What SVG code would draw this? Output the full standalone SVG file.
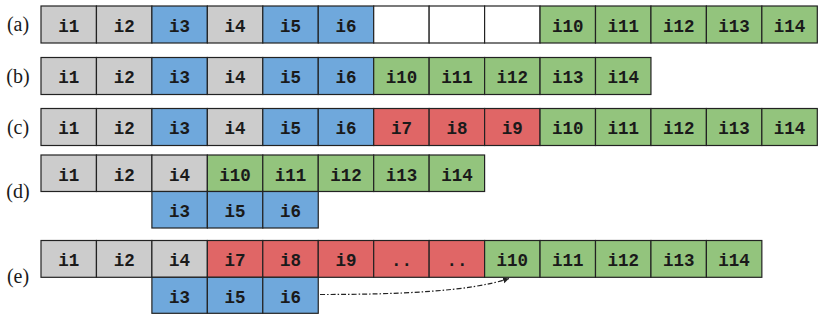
<svg xmlns="http://www.w3.org/2000/svg" width="822" height="316" viewBox="0 0 822 316">
<style>
rect{stroke:#222;stroke-width:1.2}
.g{fill:#cccccc}.b{fill:#6fa8dc}.gr{fill:#93c47d}.r{fill:#e06666}.w{fill:#ffffff}
.t{font-family:"Liberation Mono","DejaVu Sans Mono",monospace;font-weight:bold;font-size:17.5px;fill:#1a1a1a;text-anchor:middle}
.l{font-family:"Liberation Serif","DejaVu Serif",serif;font-size:20px;fill:#1a1a1a;text-anchor:middle}
</style>
<defs>
<marker id="ah" markerWidth="8" markerHeight="8" refX="6" refY="3" orient="auto" markerUnits="userSpaceOnUse">
<path d="M0,0 L6,3 L0,6 Z" fill="#222"/>
</marker>
</defs>
<g id="labels">
<text class="l" x="18" y="31">(a)</text>
<text class="l" x="18" y="82.5">(b)</text>
<text class="l" x="18" y="133.5">(c)</text>
<text class="l" x="18" y="197.5">(d)</text>
<text class="l" x="18" y="283">(e)</text>
</g>
<!-- row a -->
<g id="a1"><rect class="g" x="41" y="6" width="55.45" height="37"/><text class="t" x="68.7" y="31.8">i1</text></g>
<g id="a2"><rect class="g" x="96.45" y="6" width="55.45" height="37"/><text class="t" x="124.2" y="31.8">i2</text></g>
<g id="a3"><rect class="b" x="151.9" y="6" width="55.45" height="37"/><text class="t" x="179.6" y="31.8">i3</text></g>
<g id="a4"><rect class="g" x="207.35" y="6" width="55.45" height="37"/><text class="t" x="235.1" y="31.8">i4</text></g>
<g id="a5"><rect class="b" x="262.8" y="6" width="55.45" height="37"/><text class="t" x="290.5" y="31.8">i5</text></g>
<g id="a6"><rect class="b" x="318.25" y="6" width="55.45" height="37"/><text class="t" x="346" y="31.8">i6</text></g>
<g id="a7"><rect class="w" x="373.7" y="6" width="55.45" height="37"/></g>
<g id="a8"><rect class="w" x="429.15" y="6" width="55.45" height="37"/></g>
<g id="a9"><rect class="w" x="484.6" y="6" width="55.45" height="37"/></g>
<g id="a10"><rect class="gr" x="540.05" y="6" width="55.45" height="37"/><text class="t" x="567.8" y="31.8">i10</text></g>
<g id="a11"><rect class="gr" x="595.5" y="6" width="55.45" height="37"/><text class="t" x="623.2" y="31.8">i11</text></g>
<g id="a12"><rect class="gr" x="650.95" y="6" width="55.45" height="37"/><text class="t" x="678.7" y="31.8">i12</text></g>
<g id="a13"><rect class="gr" x="706.4" y="6" width="55.45" height="37"/><text class="t" x="734.1" y="31.8">i13</text></g>
<g id="a14"><rect class="gr" x="761.85" y="6" width="55.45" height="37"/><text class="t" x="789.6" y="31.8">i14</text></g>
<!-- row b -->
<g id="b1"><rect class="g" x="41" y="57.5" width="55.45" height="37"/><text class="t" x="68.7" y="83.3">i1</text></g>
<g id="b2"><rect class="g" x="96.45" y="57.5" width="55.45" height="37"/><text class="t" x="124.2" y="83.3">i2</text></g>
<g id="b3"><rect class="b" x="151.9" y="57.5" width="55.45" height="37"/><text class="t" x="179.6" y="83.3">i3</text></g>
<g id="b4"><rect class="g" x="207.35" y="57.5" width="55.45" height="37"/><text class="t" x="235.1" y="83.3">i4</text></g>
<g id="b5"><rect class="b" x="262.8" y="57.5" width="55.45" height="37"/><text class="t" x="290.5" y="83.3">i5</text></g>
<g id="b6"><rect class="b" x="318.25" y="57.5" width="55.45" height="37"/><text class="t" x="346" y="83.3">i6</text></g>
<g id="b10"><rect class="gr" x="373.7" y="57.5" width="55.45" height="37"/><text class="t" x="401.4" y="83.3">i10</text></g>
<g id="b11"><rect class="gr" x="429.15" y="57.5" width="55.45" height="37"/><text class="t" x="456.9" y="83.3">i11</text></g>
<g id="b12"><rect class="gr" x="484.6" y="57.5" width="55.45" height="37"/><text class="t" x="512.3" y="83.3">i12</text></g>
<g id="b13"><rect class="gr" x="540.05" y="57.5" width="55.45" height="37"/><text class="t" x="567.8" y="83.3">i13</text></g>
<g id="b14"><rect class="gr" x="595.5" y="57.5" width="55.45" height="37"/><text class="t" x="623.2" y="83.3">i14</text></g>
<!-- row c -->
<g id="c1"><rect class="g" x="41" y="108.5" width="55.45" height="37"/><text class="t" x="68.7" y="134.3">i1</text></g>
<g id="c2"><rect class="g" x="96.45" y="108.5" width="55.45" height="37"/><text class="t" x="124.2" y="134.3">i2</text></g>
<g id="c3"><rect class="b" x="151.9" y="108.5" width="55.45" height="37"/><text class="t" x="179.6" y="134.3">i3</text></g>
<g id="c4"><rect class="g" x="207.35" y="108.5" width="55.45" height="37"/><text class="t" x="235.1" y="134.3">i4</text></g>
<g id="c5"><rect class="b" x="262.8" y="108.5" width="55.45" height="37"/><text class="t" x="290.5" y="134.3">i5</text></g>
<g id="c6"><rect class="b" x="318.25" y="108.5" width="55.45" height="37"/><text class="t" x="346" y="134.3">i6</text></g>
<g id="c7"><rect class="r" x="373.7" y="108.5" width="55.45" height="37"/><text class="t" x="401.4" y="134.3">i7</text></g>
<g id="c8"><rect class="r" x="429.15" y="108.5" width="55.45" height="37"/><text class="t" x="456.9" y="134.3">i8</text></g>
<g id="c9"><rect class="r" x="484.6" y="108.5" width="55.45" height="37"/><text class="t" x="512.3" y="134.3">i9</text></g>
<g id="c10"><rect class="gr" x="540.05" y="108.5" width="55.45" height="37"/><text class="t" x="567.8" y="134.3">i10</text></g>
<g id="c11"><rect class="gr" x="595.5" y="108.5" width="55.45" height="37"/><text class="t" x="623.2" y="134.3">i11</text></g>
<g id="c12"><rect class="gr" x="650.95" y="108.5" width="55.45" height="37"/><text class="t" x="678.7" y="134.3">i12</text></g>
<g id="c13"><rect class="gr" x="706.4" y="108.5" width="55.45" height="37"/><text class="t" x="734.1" y="134.3">i13</text></g>
<g id="c14"><rect class="gr" x="761.85" y="108.5" width="55.45" height="37"/><text class="t" x="789.6" y="134.3">i14</text></g>
<!-- row d -->
<g id="d1"><rect class="g" x="41" y="155" width="55.45" height="36.5"/><text class="t" x="68.7" y="180.6">i1</text></g>
<g id="d2"><rect class="g" x="96.45" y="155" width="55.45" height="36.5"/><text class="t" x="124.2" y="180.6">i2</text></g>
<g id="d4"><rect class="g" x="151.9" y="155" width="55.45" height="36.5"/><text class="t" x="179.6" y="180.6">i4</text></g>
<g id="d10"><rect class="gr" x="207.35" y="155" width="55.45" height="36.5"/><text class="t" x="235.1" y="180.6">i10</text></g>
<g id="d11"><rect class="gr" x="262.8" y="155" width="55.45" height="36.5"/><text class="t" x="290.5" y="180.6">i11</text></g>
<g id="d12"><rect class="gr" x="318.25" y="155" width="55.45" height="36.5"/><text class="t" x="346" y="180.6">i12</text></g>
<g id="d13"><rect class="gr" x="373.7" y="155" width="55.45" height="36.5"/><text class="t" x="401.4" y="180.6">i13</text></g>
<g id="d14"><rect class="gr" x="429.15" y="155" width="55.45" height="36.5"/><text class="t" x="456.9" y="180.6">i14</text></g>
<g id="d3"><rect class="b" x="151.9" y="191.5" width="55.45" height="36.5"/><text class="t" x="179.6" y="217">i3</text></g>
<g id="d5"><rect class="b" x="207.35" y="191.5" width="55.45" height="36.5"/><text class="t" x="235.1" y="217">i5</text></g>
<g id="d6"><rect class="b" x="262.8" y="191.5" width="55.45" height="36.5"/><text class="t" x="290.5" y="217">i6</text></g>
<!-- row e -->
<g id="e1"><rect class="g" x="41" y="240.5" width="55.45" height="36.8"/><text class="t" x="68.7" y="266.3">i1</text></g>
<g id="e2"><rect class="g" x="96.45" y="240.5" width="55.45" height="36.8"/><text class="t" x="124.2" y="266.3">i2</text></g>
<g id="e4"><rect class="g" x="151.9" y="240.5" width="55.45" height="36.8"/><text class="t" x="179.6" y="266.3">i4</text></g>
<g id="e7"><rect class="r" x="207.35" y="240.5" width="55.45" height="36.8"/><text class="t" x="235.1" y="266.3">i7</text></g>
<g id="e8"><rect class="r" x="262.8" y="240.5" width="55.45" height="36.8"/><text class="t" x="290.5" y="266.3">i8</text></g>
<g id="e9"><rect class="r" x="318.25" y="240.5" width="55.45" height="36.8"/><text class="t" x="346" y="266.3">i9</text></g>
<g id="edots1"><rect class="r" x="373.7" y="240.5" width="55.45" height="36.8"/><text class="t" x="401.4" y="266.3">..</text></g>
<g id="edots2"><rect class="r" x="429.15" y="240.5" width="55.45" height="36.8"/><text class="t" x="456.9" y="266.3">..</text></g>
<g id="e10"><rect class="gr" x="484.6" y="240.5" width="55.45" height="36.8"/><text class="t" x="512.3" y="266.3">i10</text></g>
<g id="e11"><rect class="gr" x="540.05" y="240.5" width="55.45" height="36.8"/><text class="t" x="567.8" y="266.3">i11</text></g>
<g id="e12"><rect class="gr" x="595.5" y="240.5" width="55.45" height="36.8"/><text class="t" x="623.2" y="266.3">i12</text></g>
<g id="e13"><rect class="gr" x="650.95" y="240.5" width="55.45" height="36.8"/><text class="t" x="678.7" y="266.3">i13</text></g>
<g id="e14"><rect class="gr" x="706.4" y="240.5" width="55.45" height="36.8"/><text class="t" x="734.1" y="266.3">i14</text></g>
<g id="e3"><rect class="b" x="151.9" y="277.3" width="55.45" height="36"/><text class="t" x="179.6" y="302.5">i3</text></g>
<g id="e5"><rect class="b" x="207.35" y="277.3" width="55.45" height="36"/><text class="t" x="235.1" y="302.5">i5</text></g>
<g id="e6"><rect class="b" x="262.8" y="277.3" width="55.45" height="36"/><text class="t" x="290.5" y="302.5">i6</text></g>
<g id="connectors">
<path d="M320,294.5 C400,294.5 470,291.5 509,278.5" fill="none" stroke="#222" stroke-width="1.2" stroke-dasharray="5,2,1.5,2" marker-end="url(#ah)"/>
</g>
</svg>
